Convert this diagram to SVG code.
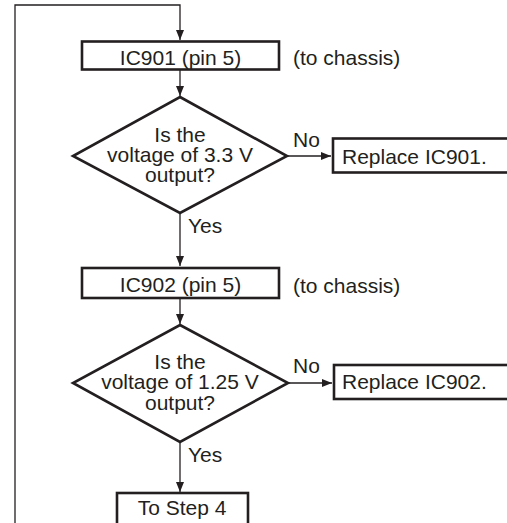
<svg xmlns="http://www.w3.org/2000/svg" width="507" height="523" viewBox="0 0 507 523">
<style>
.box{fill:#fff;stroke:#231f20;stroke-width:2.6}
.con{fill:none;stroke:#231f20;stroke-width:1.3}
text{font-family:"Liberation Sans",Arial,sans-serif;font-size:21px;fill:#231f20}
.c{text-anchor:middle}
</style>
<defs>
<marker id="ah" viewBox="0 0 10 8" refX="10" refY="4" markerWidth="10" markerHeight="8" markerUnits="userSpaceOnUse" orient="auto">
<path d="M0,0 L10,4 L0,8 Z" fill="#231f20"/>
</marker>
</defs>
<rect width="507" height="523" fill="#fff"/>
<g id="connectors">
<path class="con" d="M15,523 V5 H180 V40" marker-end="url(#ah)"/>
<path class="con" d="M180,70 V96" marker-end="url(#ah)"/>
<path class="con" d="M287,156 H331" marker-end="url(#ah)"/>
<path class="con" d="M180,213 V266" marker-end="url(#ah)"/>
<path class="con" d="M180,299 V324" marker-end="url(#ah)"/>
<path class="con" d="M288,383 H332" marker-end="url(#ah)"/>
<path class="con" d="M180,442 V492" marker-end="url(#ah)"/>
<text x="293" y="147">No</text>
<text x="188" y="233">Yes</text>
<text x="293" y="373">No</text>
<text x="188" y="462">Yes</text>
</g>
<g id="ic901">
<rect class="box" x="82" y="41.5" width="197" height="28"/>
<text class="c" x="180.5" y="65">IC901 (pin 5)</text>
</g>
<g id="chassis1"><text x="293" y="65">(to chassis)</text></g>
<g id="dec1">
<polygon class="box" points="180,97 287,156 180,213 73,156"/>
<text class="c" x="180" y="142">Is the</text>
<text class="c" x="180" y="162">voltage of 3.3 V</text>
<text class="c" x="180" y="182">output?</text>
</g>
<g id="rep901">
<rect class="box" x="333" y="138.5" width="180" height="34"/>
<text x="342" y="164">Replace IC901.</text>
</g>
<g id="ic902">
<rect class="box" x="82" y="268" width="197" height="30"/>
<text class="c" x="180.5" y="292">IC902 (pin 5)</text>
</g>
<g id="chassis2"><text x="293" y="293">(to chassis)</text></g>
<g id="dec2">
<polygon class="box" points="180,325 288,383 180,442 73,383"/>
<text class="c" x="180" y="369">Is the</text>
<text class="c" x="180" y="389">voltage of 1.25 V</text>
<text class="c" x="180" y="410">output?</text>
</g>
<g id="rep902">
<rect class="box" x="334" y="365" width="180" height="34"/>
<text x="342" y="389">Replace IC902.</text>
</g>
<g id="step4">
<rect class="box" x="117" y="493" width="131" height="40"/>
<text class="c" x="182" y="515">To Step 4</text>
</g>
</svg>
